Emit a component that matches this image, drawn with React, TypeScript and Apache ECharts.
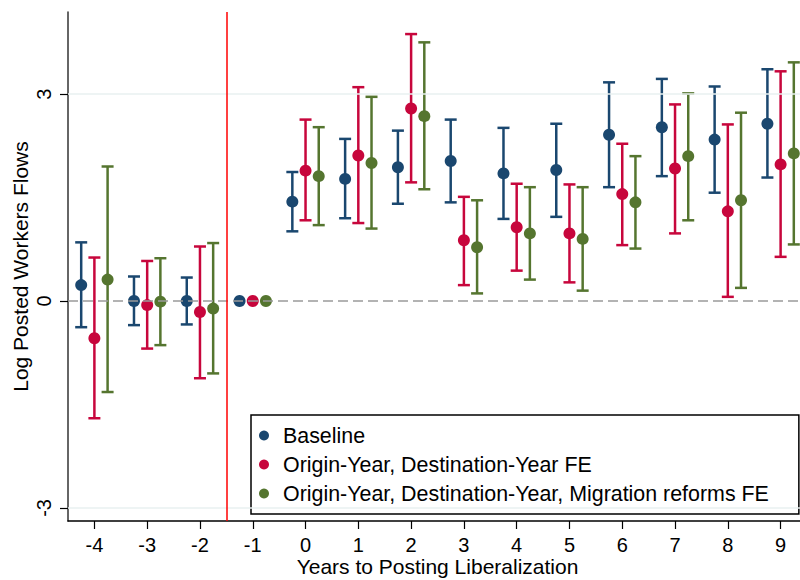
import React, { useEffect, useRef } from "react";
import * as echarts from "echarts";

const years = [-4, -3, -2, -1, 0, 1, 2, 3, 4, 5, 6, 7, 8, 9];
const yTicks = [-3, 0, 3];
const gridValues = [3, -3];
const treatmentLine = -1.5;

const seriesNames = [
  "Baseline",
  "Origin-Year, Destination-Year FE",
  "Origin-Year, Destination-Year, Migration reforms FE",
];
const seriesColors = ["#1a476f", "#c7063c", "#55752f"];
const seriesOffsets = [-0.25, 0, 0.25];

const baseline = [0.23, 0, 0, 0, 1.44, 1.77, 1.94, 2.03, 1.85, 1.9, 2.41, 2.52, 2.34, 2.57];
const baselineLo = [-0.38, -0.35, -0.34, null, 1.01, 1.2, 1.41, 1.43, 1.19, 1.22, 1.65, 1.81, 1.57, 1.79];
const baselineHi = [0.85, 0.355, 0.34, null, 1.87, 2.35, 2.47, 2.63, 2.51, 2.57, 3.17, 3.22, 3.11, 3.36];

const odFE = [-0.54, -0.06, -0.16, 0, 1.89, 2.11, 2.79, 0.88, 1.07, 0.98, 1.55, 1.92, 1.3, 1.98];
const odFELo = [-1.7, -0.69, -1.12, null, 1.17, 1.13, 1.72, 0.23, 0.44, 0.27, 0.81, 0.98, 0.06, 0.64];
const odFEHi = [0.63, 0.58, 0.79, null, 2.63, 3.1, 3.87, 1.51, 1.7, 1.69, 2.28, 2.85, 2.56, 3.33];

const migFE = [0.31, -0.01, -0.11, 0, 1.81, 2.0, 2.68, 0.78, 0.98, 0.9, 1.43, 2.1, 1.46, 2.14];
const migFELo = [-1.32, -0.64, -1.05, null, 1.1, 1.05, 1.62, 0.11, 0.31, 0.15, 0.76, 1.17, 0.19, 0.82];
const migFEHi = [1.95, 0.62, 0.84, null, 2.52, 2.96, 3.75, 1.46, 1.65, 1.65, 2.1, 3.01, 2.73, 3.46];

const points = [baseline, odFE, migFE];
const lows = [baselineLo, odFELo, migFELo];
const highs = [baselineHi, odFEHi, migFEHi];

const FONT = "'Liberation Sans', Arial, Helvetica, sans-serif";

export default function App() {
  const ref = useRef<HTMLDivElement>(null);

  useEffect(() => {
    if (!ref.current) return;
    const chart = echarts.init(ref.current, null, { renderer: "svg" });

    const capSeries: any[] = points.map((_, si) => {
      const color = seriesColors[si];
      const data: any[] = [];
      years.forEach((yr, i) => {
        const lo = lows[si][i];
        const hi = highs[si][i];
        if (lo !== null && hi !== null) data.push([yr + seriesOffsets[si], lo, hi]);
      });
      return {
        type: "custom",
        name: seriesNames[si] + " CI",
        z: 2,
        silent: true,
        data,
        encode: { x: 0, y: [1, 2] },
        renderItem: (params: any, api: any) => {
          const x = api.value(0);
          const pLo = api.coord([x, api.value(1)]);
          const pHi = api.coord([x, api.value(2)]);
          const cw = 6;
          const style = { stroke: color, lineWidth: 2.5 };
          return {
            type: "group",
            children: [
              { type: "line", shape: { x1: pHi[0], y1: pHi[1], x2: pLo[0], y2: pLo[1] }, style },
              { type: "line", shape: { x1: pHi[0] - cw, y1: pHi[1], x2: pHi[0] + cw, y2: pHi[1] }, style },
              { type: "line", shape: { x1: pLo[0] - cw, y1: pLo[1], x2: pLo[0] + cw, y2: pLo[1] }, style },
            ],
          };
        },
      };
    });

    const dotSeries: any[] = points.map((vals, si) => ({
      type: "scatter",
      name: seriesNames[si],
      z: 3,
      symbol: "circle",
      symbolSize: 12,
      itemStyle: { color: seriesColors[si], opacity: 1 },
      data: years.map((yr, i) => [yr + seriesOffsets[si], vals[i]]),
    }));

    const refSeries: any[] = [
      {
        type: "scatter",
        name: "grid",
        z: 1,
        silent: true,
        data: [],
        markLine: {
          silent: true,
          symbol: "none",
          label: { show: false },
          animation: false,
          data: [
            ...gridValues.map((v) => ({ yAxis: v, lineStyle: { color: "#e9f1f1", width: 1.5, type: "solid" } })),
            { yAxis: 0, lineStyle: { color: "#9a9a9a", width: 1.5, type: [10, 5] } },
          ],
        },
      },
      {
        type: "scatter",
        name: "treat",
        z: 4,
        silent: true,
        data: [],
        markLine: {
          silent: true,
          symbol: "none",
          label: { show: false },
          animation: false,
          data: [{ xAxis: treatmentLine, lineStyle: { color: "#ff0000", width: 1.5, type: "solid" } }],
        },
      },
    ];

    chart.setOption({
      animation: false,
      backgroundColor: "#ffffff",
      grid: { left: 68, right: 1, top: 12, bottom: 59, containLabel: false, outerBoundsMode: "none" },
      xAxis: {
        type: "value",
        min: -4.5,
        max: 9.5,
        name: "Years to Posting Liberalization",
        nameLocation: "middle",
        nameGap: 35,
        nameMoveOverlap: false,
        nameTextStyle: { fontSize: 21, color: "#000", fontFamily: FONT },
        axisLine: { show: true, onZero: false, lineStyle: { color: "#000", width: 1.5 } },
        axisTick: { show: true, length: 8, customValues: years, lineStyle: { color: "#000", width: 1.2 } },
        axisLabel: { customValues: years, fontSize: 20, color: "#000", fontFamily: FONT, margin: 14 },
        splitLine: { show: false },
      },
      yAxis: {
        type: "value",
        min: -3.19,
        max: 4.19,
        name: "Log Posted Workers Flows",
        nameLocation: "middle",
        nameGap: 37,
        nameMoveOverlap: false,
        nameRotate: 90,
        nameTextStyle: { fontSize: 21, color: "#000", fontFamily: FONT },
        axisLine: { show: true, onZero: false, lineStyle: { color: "#333", width: 1.5 } },
        axisTick: { show: true, length: 8, customValues: yTicks, lineStyle: { color: "#000", width: 1.2 } },
        axisLabel: { customValues: yTicks, rotate: 90, fontSize: 20, color: "#000", fontFamily: FONT, margin: 14 },
        splitLine: { show: false },
      },
      legend: {
        data: seriesNames.map((n) => ({ name: n, icon: "circle" })),
        orient: "vertical",
        left: 251,
        top: 415,
        itemWidth: 10,
        itemHeight: 10,
        itemGap: 8,
        padding: [10, 30, 10, 8],
        borderColor: "#000",
        borderWidth: 1.5,
        backgroundColor: "#fff",
        selectedMode: false,
        textStyle: { fontSize: 21.4, lineHeight: 21, color: "#000", fontFamily: FONT, padding: [0, 0, 0, 9] },
      },
      series: [...refSeries, ...capSeries, ...dotSeries],
    });

    return () => chart.dispose();
  }, []);

  return (
    <div style={{ position: "fixed", left: 0, top: 0, width: 800, height: 580, overflow: "hidden", background: "#fff" }}>
      <div ref={ref} style={{ width: 808, height: 580 }} />
    </div>
  );
}
